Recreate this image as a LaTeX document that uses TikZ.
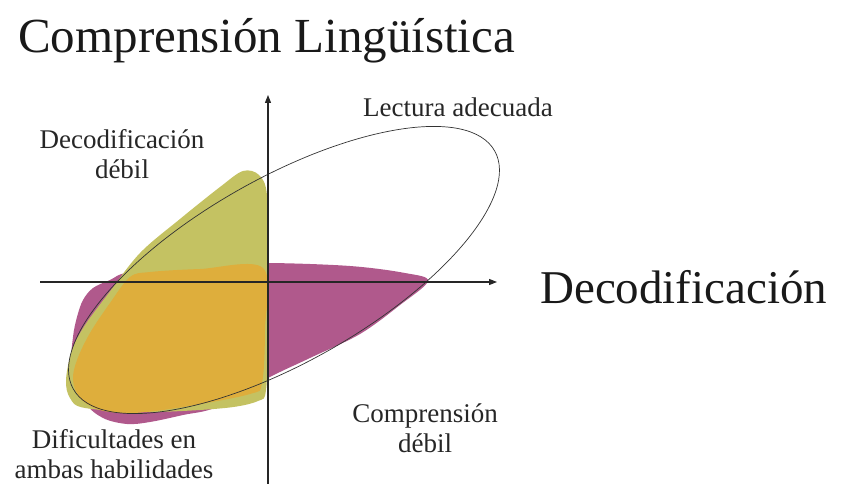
\documentclass[tikz,border=0pt]{standalone}
\usepackage{fontspec}
\setmainfont{Liberation Serif}
\usetikzlibrary{arrows.meta}
\definecolor{cgreen}{HTML}{C4C262}
\definecolor{cpurple}{HTML}{B0598C}
\definecolor{corange}{HTML}{DEAE3C}
\definecolor{cline}{HTML}{333333}
\tikzset{
  blob/.style={draw=none},
  axis/.style={line width=1.1pt, draw=black!85, -{Triangle[length=8pt,width=6pt]}},
  label/.style={inner sep=0pt, font=\fontsize{27}{30}\selectfont, text=black!85},
  biglabel/.style={inner sep=0pt, text=black!90},
}
\begin{document}
\begin{tikzpicture}[x=1pt,y=-1pt]
\useasboundingbox (0,0) rectangle (845,484);
% purple
\fill[cpurple, blob] plot[smooth cycle, tension=0.55] coordinates {
 (130,272) (200,265) (268,263) (350,266) (405,273) (428,281)
 (400,305) (360,334) (310,358) (268,378) (217,407) (183,415) (150,422) (127,424) (103,418)
 (85,402) (72,365) (73,337) (77,317) (83,300) (93,288) (110,280)};
% green
\fill[cgreen, blob] plot[smooth cycle, tension=0.55] coordinates {
 (243,171) (259,175) (267,195) (268,260) (268,330) (266,390) (258,401)
 (225,408) (150,412) (85,408) (70,398) (66,380) (72,350) (85,325) (108,294)
 (140,253) (180,219) (220,187)};
% orange
\fill[corange, blob] plot[smooth cycle, tension=0.55] coordinates {
 (130,277) (150,272) (200,269) (263,268) (265,330) (262,383) (250,394)
 (183,407) (133,413) (100,410) (80,398) (73,380) (77,360) (90,333) (110,303)};
% ellipse
\draw[cline, line width=0.7pt] (284,270) ellipse [x radius=242pt, y radius=92pt, rotate=29.5];
% axes
\coordinate (xs) at (40,282);
\coordinate (xe) at (497,282);
\coordinate (ys) at (268,484);
\coordinate (ye) at (268,95);
\draw[axis] (xs) -- (xe);
\draw[axis] (ys) -- (ye);
% texts
\node[biglabel, anchor=base west, font=\fontsize{49}{54}\selectfont] (title) at (18,53) {Comprensión Lingüística};
\node[biglabel, anchor=base west, font=\fontsize{47}{52}\selectfont] (xlab) at (540,303) {Decodificación};
\node[label, anchor=base west] (lect) at (363,117) {Lectura adecuada};
\node[label, align=center, anchor=base] (dd) at (122,178) {Decodificación\\débil};
\node[label, align=center, anchor=base] (cd) at (425,452) {Comprensión\\débil};
\node[label, align=center, anchor=base] (ah) at (114,478) {Dificultades en\\ambas habilidades};
\end{tikzpicture}
\end{document}
